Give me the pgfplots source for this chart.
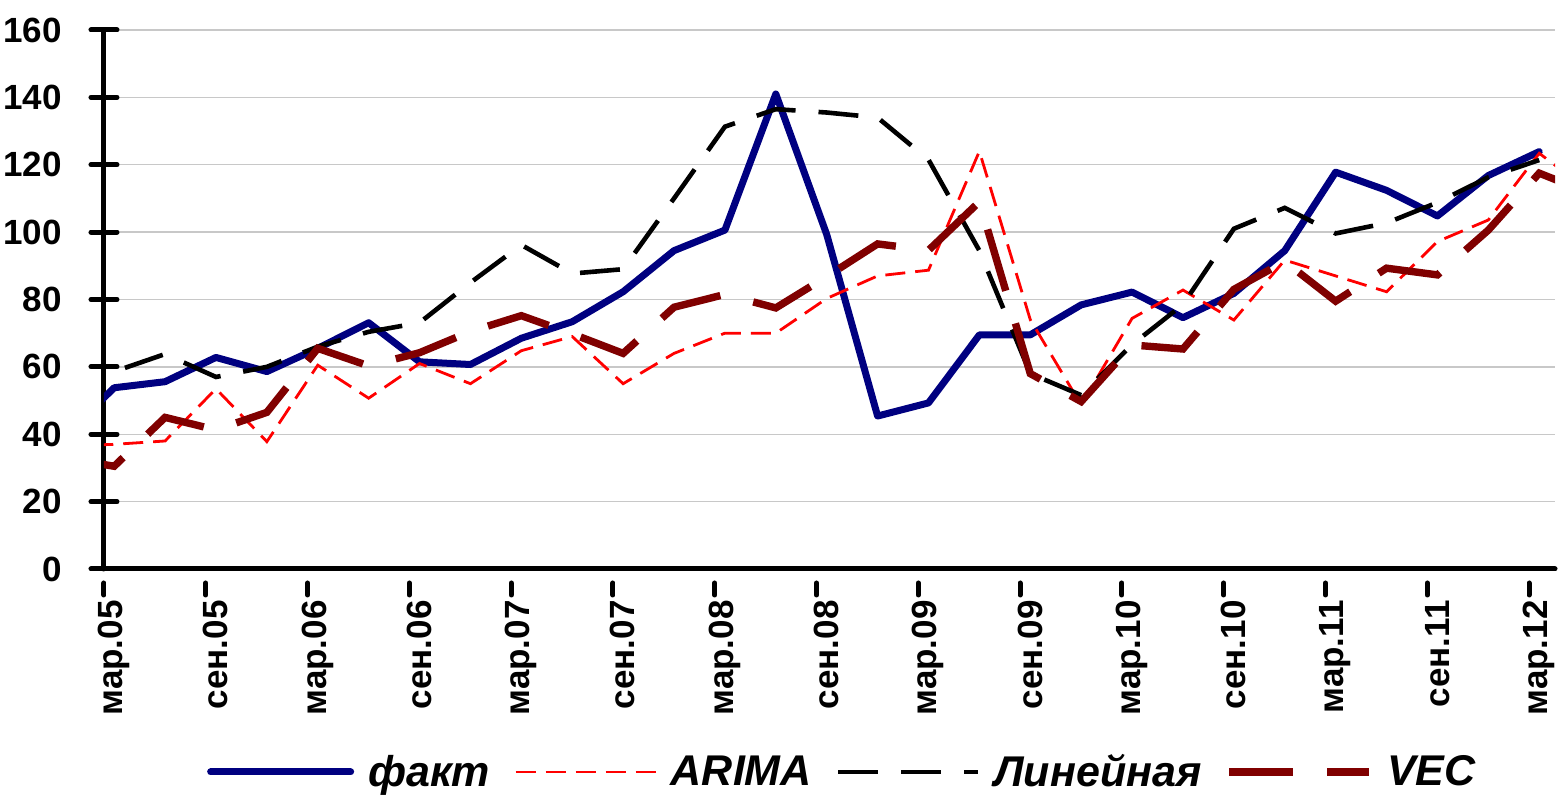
\documentclass[border=0pt]{standalone}
\usepackage{fontspec}
\setmainfont{Liberation Sans}
\usepackage{graphicx}
\usepackage{pgfplots}
\pgfplotsset{compat=1.18}
\definecolor{navyc}{HTML}{000080}
\definecolor{vecc}{HTML}{800000}
\definecolor{gridc}{HTML}{C8C8C8}

\pgfplotstableread{
x y
-0.8 39
0.2 53.8
1.2 55.6
2.2 62.8
3.2 58.6
4.2 65.5
5.2 73.1
6.2 61.5
7.2 60.7
8.2 68.5
9.2 73.4
10.2 82.3
11.2 94.5
12.2 100.6
13.2 141
14.2 99.3
15.2 45.4
16.2 49.3
17.2 69.5
18.2 69.5
19.2 78.4
20.2 82.2
21.2 74.6
22.2 81.8
23.2 94.5
24.2 117.8
25.2 112.4
26.2 104.8
27.2 116.8
28.2 123.9
}\fakt

\pgfplotstableread{
x y
-0.8 36.5
0.2 37
1.2 38
2.2 53.5
3.2 37.8
4.2 60.5
5.2 50.7
6.2 61
7.2 55
8.2 64.8
9.2 69
10.2 55
11.2 64
12.2 70
13.2 70
14.2 80.3
15.2 87
16.2 88.7
17.2 124
18.2 74
19.2 48.7
20.2 74.4
21.2 82.8
22.2 73.9
23.2 91.7
24.2 87
25.2 82.3
26.2 97.2
27.2 103.6
28.2 123.4
29.2 112
}\arima

\pgfplotstableread{
x y
-0.8 56
0.2 58.6
1.2 63.8
2.2 57
3.2 60
4.2 66
5.2 70.4
6.2 73.1
7.2 85
8.2 96.2
9.2 87.7
10.2 89
11.2 110
12.2 131.3
13.2 136.5
14.2 135.5
15.2 134
16.2 121.5
17.2 94.5
18.2 58
19.2 51.6
20.2 66.6
21.2 78.5
22.2 101
23.2 107.2
24.2 99.6
25.2 102.7
26.2 108.8
27.2 116.3
28.2 121.4
}\linear

\pgfplotstableread{
x y
-0.8 33
0.2 30.5
1.2 45
2.2 41.3
3.2 46.5
4.2 65.5
5.2 60.3
6.2 64.2
7.2 70.5
8.2 75.2
9.2 69.8
10.2 64
11.2 77.7
12.2 81.5
13.2 77.5
14.2 86.8
15.2 96.5
16.2 94.6
17.2 109
18.2 58
19.2 49.7
20.2 66.5
21.2 65.3
22.2 83
23.2 91.3
24.2 79.5
25.2 89.3
26.2 87.3
27.2 100.6
28.2 117.5
29.2 111.5
}\vec

\begin{document}
\begin{tikzpicture}
\begin{axis}[
  scale only axis,
  width=725.5pt, height=269.5pt,
  xmin=0, xmax=28.51, ymin=0, ymax=160,
  axis lines=left,
  axis line style={-, line width=2.5pt, line cap=round},
  xtick={0,2,...,28},
  xticklabels={мар.05,сен.05,мар.06,сен.06,мар.07,сен.07,мар.08,сен.08,мар.09,сен.09,мар.10,сен.10,мар.11,сен.11,мар.12},
  ytick={0,20,...,160},
  ymajorgrids,
  major grid style={draw=gridc, line width=0.7pt},
  tick style={line width=2.5pt, line cap=round, black},
  major tick length=13pt,
  xtick align=outside,
  ytick align=center,
  xtick style={dash pattern=on 6pt off 40pt},
  /pgf/number format/assume math mode=true,
  yticklabel style={font=\bfseries\fontsize{17.5}{20}\selectfont, inner sep=0pt, xshift=-14.5pt},
  xticklabel style={font=\bfseries\fontsize{17.5}{20}\selectfont, inner sep=0pt, xshift=5pt, yshift=-2.5pt, rotate=90, anchor=east},
  legend columns=4,
  legend style={draw=none, fill=none, at={(0.5095,-0.3766)}, anchor=center,
    font=\bfseries\itshape\fontsize{21.5}{26}\selectfont,
    /tikz/every even column/.append style={column sep=10pt}},
  legend image code/.code={\draw[#1] (0pt,0pt) -- (70pt,0pt); \path (75pt,0pt);},
]
\addplot[navyc, line width=3.5pt, line join=round, line cap=round] table {\fakt};
\addlegendentry{факт}
\addplot[red, line width=1.4pt, dash pattern=on 10pt off 5pt] table {\arima};
\addlegendentry{ARIMA}
\addplot[black, line width=2.3pt, dash pattern=on 20pt off 11.5pt] table {\linear};
\addlegendentry{Линейная}
\addplot[vecc, line width=3.7pt, dash pattern=on 32pt off 17pt] table {\vec};
\addlegendentry{VEC}
\end{axis}
\pgfresetboundingbox
\path[use as bounding box] ([xshift=-52pt,yshift=-113.5pt]current axis.south west) rectangle ([xshift=2pt,yshift=15pt]current axis.north east);
\end{tikzpicture}
\end{document}
